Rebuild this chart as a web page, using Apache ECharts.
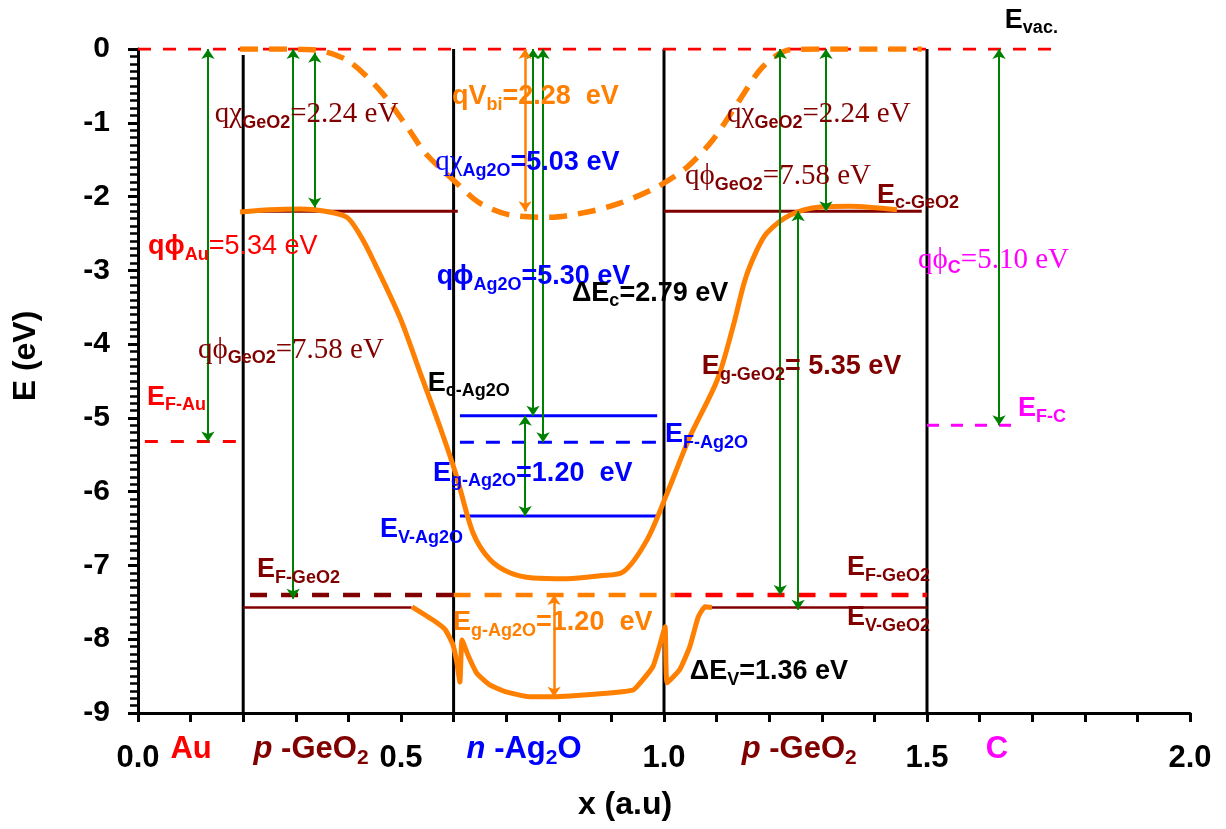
<!DOCTYPE html>
<html>
<head>
<meta charset="utf-8">
<script src="https://cdn.jsdelivr.net/npm/echarts@6/dist/echarts.min.js"></script>
<style>html,body{margin:0;padding:0;background:#fff}#c{width:1226px;height:829px}</style>
</head>
<body>
<div id="c"></div>
<script>
// ================= DATA =================
const xTickLabels = ['0.0', '0.5', '1.0', '1.5', '2.0'];
const yTickLabels = ['0', '-1', '-2', '-3', '-4', '-5', '-6', '-7', '-8', '-9'];

// bent vacuum level (orange dashed)
const vacCurveX = [0.194, 0.257, 0.333, 0.397, 0.460, 0.513, 0.546, 0.603, 0.650, 0.707, 0.783, 0.854, 0.916, 0.987, 1.044, 1.093, 1.144, 1.188, 1.240, 1.316, 1.490];
const vacCurveE = [0, 0, -0.01, -0.15, -0.56, -1.07, -1.41, -1.80, -2.09, -2.25, -2.28, -2.21, -2.09, -1.87, -1.60, -1.23, -0.69, -0.24, -0.01, 0, 0];

// bent conduction band (orange solid)
const cbCurveX = [0.194, 0.251, 0.308, 0.356, 0.397, 0.422, 0.447, 0.498, 0.536, 0.574, 0.606, 0.637, 0.669, 0.707, 0.751, 0.816, 0.878, 0.922, 0.968, 1.006, 1.049, 1.101, 1.131, 1.154, 1.177, 1.196, 1.240, 1.297, 1.354, 1.443];
const cbCurveE = [-2.21, -2.18, -2.17, -2.20, -2.28, -2.52, -2.86, -3.64, -4.38, -5.12, -5.80, -6.56, -6.92, -7.10, -7.17, -7.18, -7.14, -7.09, -6.65, -6.02, -5.26, -4.49, -3.77, -3.13, -2.72, -2.49, -2.25, -2.14, -2.13, -2.18];

// bent valence band (orange solid)
const vbCurveX = [0.521, 0.561, 0.584, 0.599, 0.606, 0.612, 0.616, 0.627, 0.644, 0.669, 0.698, 0.745, 0.789, 0.878, 0.941, 0.954, 0.979, 0.992, 1.002, 1.006, 1.030, 1.049, 1.065, 1.078, 1.091];
const vbCurveE = [-7.56, -7.74, -7.87, -8.08, -8.31, -8.58, -8.01, -8.21, -8.46, -8.62, -8.71, -8.78, -8.78, -8.74, -8.69, -8.60, -8.37, -8.08, -7.83, -8.59, -8.41, -8.10, -7.70, -7.56, -7.57];

// flat energy levels
const levelNames = ['Evac', 'EF-Au', 'Ec-GeO2 L', 'Ec-GeO2 R', 'Ev-GeO2 L', 'Ev-GeO2 R', 'EF-GeO2 L', 'EF mid', 'EF-GeO2 R', 'Ec-Ag2O', 'EF-Ag2O', 'Ev-Ag2O', 'EF-C'];
const levelStart = [0.0, 0.013, 0.2, 1.0, 0.2, 1.09, 0.213, 0.6, 1.02, 0.612, 0.612, 0.612, 1.5];
const levelEnd   = [1.74, 0.188, 0.608, 1.49, 0.52, 1.5, 0.6, 1.02, 1.5, 0.987, 0.987, 0.985, 1.67];
const levelE     = [0, -5.32, -2.2, -2.2, -7.57, -7.57, -7.4, -7.4, -7.4, -4.97, -5.33, -6.33, -5.10];

// interfaces (black vertical lines)
const interfaceX = [0.2, 0.6, 1.0, 1.5];
const interfaceTop = [-0.08, 0, 0, 0];
const interfaceBottom = [-9, -9, -9, -9];

// double-headed arrows
const arrowX    = [0.133, 0.295, 0.336, 0.751, 0.770, 0.736, 1.221, 1.255, 1.308, 1.637, 0.736, 0.791];
const arrowFrom = [0, 0, -0.05, 0, 0, -4.97, 0, -2.2, 0, 0, 0, -7.4];
const arrowTo   = [-5.32, -7.45, -2.15, -4.97, -5.33, -6.33, -7.4, -7.6, -2.2, -5.1, -2.2, -8.78];
const arrowKind = ['g', 'g', 'g', 'g', 'g', 'g', 'g', 'g', 'g', 'g', 'o', 'o'];

// ================= STYLE / LAYOUT =================
const C = {
  orange: '#ff7f00', maroon: '#800000', red: '#ff0000', blue: '#0000ff',
  green: '#008000', magenta: '#ff00ff', black: '#000000'
};
const SANS = "'Liberation Sans', Arial, sans-serif";
const SERIF = "'Liberation Serif', 'Times New Roman', serif";

const levelStyle = {
  'Evac':      {color: C.red, width: 3, type: [13, 12]},
  'EF-Au':     {color: C.red, width: 3, type: [13, 13]},
  'Ec-GeO2 L': {color: C.maroon, width: 3, type: 'solid'},
  'Ec-GeO2 R': {color: C.maroon, width: 3, type: 'solid'},
  'Ev-GeO2 L': {color: C.maroon, width: 2.5, type: 'solid'},
  'Ev-GeO2 R': {color: C.maroon, width: 2.5, type: 'solid'},
  'EF-GeO2 L': {color: C.maroon, width: 4.5, type: [17, 14]},
  'EF mid':    {color: C.orange, width: 4.5, type: [17, 14]},
  'EF-GeO2 R': {color: C.red, width: 4.5, type: [17, 14]},
  'Ec-Ag2O':   {color: C.blue, width: 3, type: 'solid'},
  'EF-Ag2O':   {color: C.blue, width: 3, type: [14, 12]},
  'Ev-Ag2O':   {color: C.blue, width: 3, type: 'solid'},
  'EF-C':      {color: C.magenta, width: 3, type: [12, 12]}
};

// annotation texts: [rich text, x, E, colour, anchor]
const annotations = [
  ['{s|qχ}{sb|GeO2}{s|=2.24 eV}', 0.146, -0.89, C.maroon, 'l'],
  ['{b|qV}{sb|bi}{b|=2.28  eV}', 0.597, -0.65, C.orange, 'l'],
  ['{s|qχ}{sb|GeO2}{s|=2.24 eV}', 1.120, -0.89, C.maroon, 'l'],
  ['{s|qχ}{sb|Ag2O}{b|=5.03 eV}', 0.565, -1.54, C.blue, 'l'],
  ['{s|qϕ}{sb|GeO2}{s|=7.58 eV}', 1.040, -1.73, C.maroon, 'l'],
  ['{b|E}{sb|c-GeO2}', 1.405, -1.98, C.maroon, 'l'],
  ['{b|qϕ}{sb|Au}{r|=5.34 eV}', 0.019, -2.68, C.red, 'l'],
  ['{b|qϕ}{sb|Ag2O}{b|=5.30 eV}', 0.568, -3.09, C.blue, 'l'],
  ['{b|ΔE}{sb|c}{b|=2.79 eV}', 0.825, -3.31, C.black, 'l'],
  ['{s|qϕ}{sb|C}{s|=5.10 eV}', 1.483, -2.86, C.magenta, 'l'],
  ['{s|qϕ}{sb|GeO2}{s|=7.58 eV}', 0.114, -4.08, C.maroon, 'l'],
  ['{b|E}{sb|g-GeO2}{b|= 5.35 eV}', 1.072, -4.31, C.maroon, 'l'],
  ['{b|E}{sb|F-Au}', 0.017, -4.72, C.red, 'l'],
  ['{b|E}{sb|c-Ag2O}', 0.551, -4.53, C.black, 'l'],
  ['{b|E}{sb|F-Ag2O}', 1.002, -5.23, C.blue, 'l'],
  ['{b|E}{sb|F-C}', 1.673, -4.88, C.magenta, 'l'],
  ['{b|E}{sb|g-Ag2O}{b|=1.20  eV}', 0.561, -5.75, C.blue, 'l'],
  ['{b|E}{sb|V-Ag2O}', 0.460, -6.52, C.blue, 'l'],
  ['{b|E}{sb|F-GeO2}', 0.226, -7.06, C.maroon, 'l'],
  ['{b|E}{sb|F-GeO2}', 1.348, -7.03, C.maroon, 'l'],
  ['{b|E}{sb|V-GeO2}', 1.348, -7.71, C.maroon, 'l'],
  ['{b|E}{sb|g-Ag2O}{b|=1.20  eV}', 0.599, -7.78, C.orange, 'l'],
  ['{b|ΔE}{sb|V}{b|=1.36 eV}', 1.049, -8.44, C.black, 'l'],
  ['{b|E}{sb|vac.}', 1.648, 0.39, C.black, 'l'],
  // region names under the axis
  ['{rb|Au}', 0.101, -9.50, C.red, 'c'],
  ['{i|p}{rb| -GeO}{rs|2}', 0.329, -9.50, C.maroon, 'c'],
  ['{i|n}{rb| -Ag}{rs|2}{rb|O}', 0.734, -9.50, C.blue, 'c'],
  ['{i|p}{rb| -GeO}{rs|2}', 1.257, -9.50, C.maroon, 'c'],
  ['{rb|C}', 1.633, -9.50, C.magenta, 'c']
];

const rich = {
  s:  {fontFamily: SERIF, fontSize: 29, fontWeight: 'normal', lineHeight: 34},
  b:  {fontFamily: SANS, fontSize: 27, fontWeight: 'bold', lineHeight: 34},
  r:  {fontFamily: SANS, fontSize: 27, fontWeight: 'normal', lineHeight: 34},
  sb: {fontFamily: SANS, fontSize: 18, fontWeight: 'bold', lineHeight: 18, verticalAlign: 'bottom'},
  rb: {fontFamily: SANS, fontSize: 31, fontWeight: 'bold', lineHeight: 38},
  i:  {fontFamily: SANS, fontSize: 31, fontWeight: 'bold', fontStyle: 'italic', lineHeight: 38},
  rs: {fontFamily: SANS, fontSize: 21, fontWeight: 'bold', lineHeight: 22, verticalAlign: 'bottom'}
};

// ================= BUILD =================
const series = [];

interfaceX.forEach((x, i) => {
  series.push({
    type: 'line', silent: true, symbol: 'none', z: 2,
    data: [[x, interfaceTop[i]], [x, interfaceBottom[i]]],
    lineStyle: {color: C.black, width: 3}
  });
});

levelNames.forEach((n, i) => {
  const st = levelStyle[n];
  series.push({
    type: 'line', name: n, silent: true, symbol: 'none', z: 3,
    data: [[levelStart[i], levelE[i]], [levelEnd[i], levelE[i]]],
    lineStyle: {color: st.color, width: st.width, type: st.type}
  });
});

function curve(xs, es, style, smooth) {
  return {
    type: 'line', silent: true, symbol: 'none', z: 4, smooth: smooth,
    data: xs.map((x, i) => [x, es[i]]),
    lineStyle: style
  };
}
series.push(curve(vacCurveX, vacCurveE, {color: C.orange, width: 5.5, type: [18, 11]}, 0.3));
series.push(curve(cbCurveX, cbCurveE, {color: C.orange, width: 5, type: 'solid'}, 0.3));
series.push(curve(vbCurveX, vbCurveE, {color: C.orange, width: 5, type: 'solid'}, 0.15));

series.push({
  type: 'lines', coordinateSystem: 'cartesian2d', silent: true, z: 5,
  symbol: ['arrow', 'arrow'], symbolSize: 10,
  data: arrowX.map((x, i) => ({
    coords: [[x, arrowFrom[i]], [x, arrowTo[i]]],
    lineStyle: {color: arrowKind[i] === 'g' ? C.green : C.orange, width: arrowKind[i] === 'g' ? 2 : 2.5}
  })),
  lineStyle: {opacity: 1, curveness: 0}
});

series.push({
  type: 'scatter', symbolSize: 0, clip: false, silent: true, z: 10,
  itemStyle: {opacity: 1},
  label: {show: true, rich: rich, opacity: 1},
  data: annotations.map(a => ({
    value: [a[1], a[2]],
    label: {
      show: true, formatter: a[0], color: a[3], opacity: 1,
      position: a[4] === 'c' ? 'inside' : 'right', distance: 0
    }
  }))
});

const option = {
  animation: false,
  backgroundColor: '#ffffff',
  grid: {left: 138, right: 36, top: 49, bottom: 116},
  xAxis: {
    type: 'value', min: 0, max: 2, interval: 0.5,
    axisLine: {onZero: false, lineStyle: {color: '#000', width: 3}},
    axisTick: {show: true, length: 9, lineStyle: {color: '#000', width: 3}},
    minorTick: {show: true, splitNumber: 5, length: 9, lineStyle: {color: '#000', width: 3}},
    splitLine: {show: false},
    axisLabel: {
      margin: 30, fontSize: 31, fontWeight: 'bold', color: '#000', fontFamily: SANS,
      formatter: v => xTickLabels[Math.round(v / 0.5)]
    },
    name: 'x (a.u)', nameLocation: 'middle', nameGap: 76,
    nameTextStyle: {fontSize: 32, fontWeight: 'bold', color: '#000', fontFamily: SANS, padding: [0, 78, 0, 0]}
  },
  yAxis: {
    type: 'value', min: -9, max: 0, interval: 1,
    axisLine: {show: true, onZero: false, lineStyle: {color: '#000', width: 3}},
    axisTick: {show: true, length: 10, lineStyle: {color: '#000', width: 3}},
    minorTick: {show: true, splitNumber: 10, length: 8, lineStyle: {color: '#000', width: 2.5}},
    splitLine: {show: false},
    axisLabel: {
      margin: 28, fontSize: 30, fontWeight: 'bold', color: '#000', fontFamily: SANS,
      formatter: v => yTickLabels[Math.round(-v)]
    },
    name: 'E (eV)', nameLocation: 'middle', nameGap: 96, nameRotate: 90,
    nameTextStyle: {fontSize: 32, fontWeight: 'bold', color: '#000', fontFamily: SANS, padding: [0, 0, 0, 50]}
  },
  series: series
};

const chart = echarts.init(document.getElementById('c'));
chart.setOption(option);
</script>
</body>
</html>
